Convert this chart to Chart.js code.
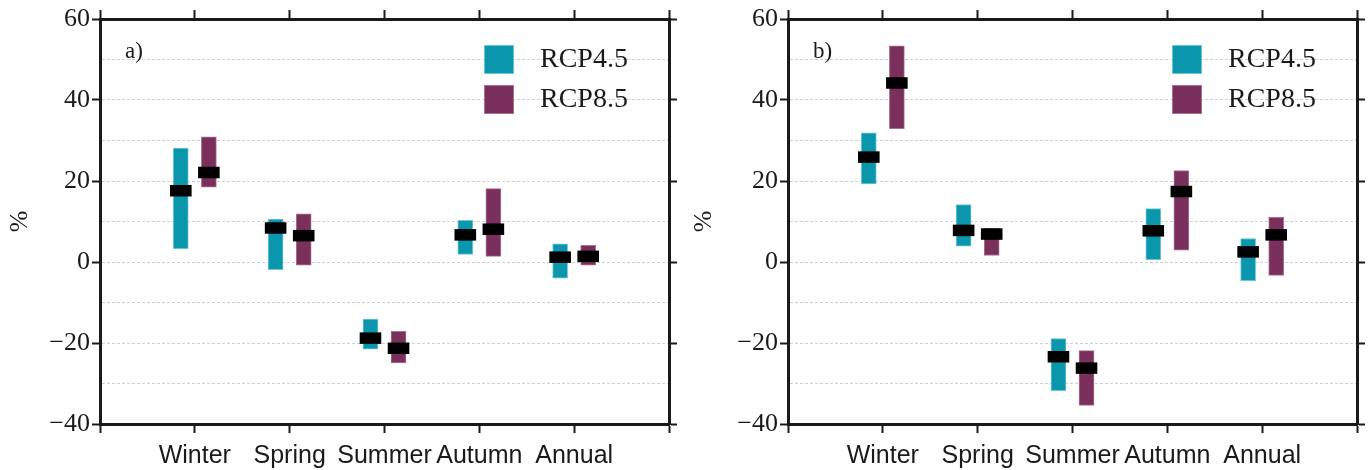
<!DOCTYPE html>
<html>
<head>
<meta charset="utf-8">
<script src="https://cdn.jsdelivr.net/npm/chart.js@4.4.1/dist/chart.umd.min.js"></script>
<style>
  html, body { margin: 0; padding: 0; background: #fff; }
  .row { display: flex; width: 1368px; height: 470px; }
  canvas { display: block; width: 684px; height: 470px; }
</style>
</head>
<body>
<div class="row">
  <canvas id="chart-a" width="684" height="470"></canvas>
  <canvas id="chart-b" width="684" height="470"></canvas>
</div>
<script>
// ── Dati ────────────────────────────────────────────────────────────────────
const SEASONS   = ['Winter', 'Spring', 'Summer', 'Autumn', 'Annual'];
const SCENARIOS = ['RCP4.5', 'RCP8.5'];
const Y_LABELS  = [-40, -20, 0, 20, 40, 60];

// pannello a)
const A_RCP45_LOW  = [3.3, -1.9, -21.5, 1.9, -4.0];
const A_RCP45_HIGH = [28.1, 10.6, -14.1, 10.3, 4.5];
const A_RCP45_MED  = [17.6, 8.4, -18.8, 6.7, 1.2];
const A_RCP85_LOW  = [18.5, -0.8, -24.9, 1.4, -0.8];
const A_RCP85_HIGH = [30.9, 11.9, -17.1, 18.1, 4.1];
const A_RCP85_MED  = [22.1, 6.5, -21.3, 8.1, 1.4];

// pannello b)
const B_RCP45_LOW  = [19.3, 3.9, -31.8, 0.6, -4.6];
const B_RCP45_HIGH = [31.9, 14.2, -18.9, 13.2, 5.8];
const B_RCP45_MED  = [25.9, 7.8, -23.4, 7.7, 2.5];
const B_RCP85_LOW  = [32.9, 1.6, -35.4, 2.9, -3.3];
const B_RCP85_HIGH = [53.4, 8.3, -21.9, 22.6, 11.0];
const B_RCP85_MED  = [44.2, 6.9, -26.2, 17.4, 6.7];

const COLORS  = ['#0a97ad', '#7a2f5d'];
const EDGES   = ['#6cc6d3', '#a7728f'];
const SHIFT   = 0.148;   // scostamento dei due scenari dal centro categoria
const SERIF   = "'Liberation Serif', 'Times New Roman', serif";
const SANS    = "'Liberation Sans', Arial, sans-serif";
const INK     = '#1a1a1a';

// ── Legenda ed etichetta pannello ──────────────────────────────────────────
const boxLegend = {
  id: 'boxLegend',
  afterDraw(chart, args, opts) {
    const { ctx, chartArea } = chart;
    const bars = chart.data.datasets.filter(d => d.type === 'bar');
    ctx.save();
    ctx.font = `28px ${SERIF}`;
    ctx.textBaseline = 'middle';
    bars.forEach((d, i) => {
      const bx = chartArea.right - 185;
      const by = chartArea.top + 26 + i * 40;
      ctx.fillStyle = d.backgroundColor;
      ctx.fillRect(bx, by, 30, 29);
      ctx.strokeStyle = d.borderColor;
      ctx.lineWidth = 1;
      ctx.strokeRect(bx + 0.5, by + 0.5, 29, 28);
      ctx.fillStyle = INK;
      ctx.fillText(d.label, bx + 56, by + 15);
    });
    ctx.font = `23px ${SERIF}`;
    ctx.textBaseline = 'alphabetic';
    ctx.fillStyle = INK;
    ctx.fillText(opts.tag, chartArea.left + 25, chartArea.top + 39);
    ctx.restore();
  },
};

function fmtTick(v) {
  if (!Y_LABELS.includes(v)) return '';
  return v < 0 ? '\u2212' + Math.abs(v) : String(v);
}

function makePanel(canvasId, tag, lows, highs, meds, leftW, rightW) {
  const ctx = document.getElementById(canvasId).getContext('2d');

  const barSets = SCENARIOS.map((name, s) => ({
    type: 'bar',
    label: name,
    data: SEASONS.map((_, i) => ({ x: i + 1 + (s === 0 ? -SHIFT : SHIFT), y: [lows[s][i], highs[s][i]] })),
    backgroundColor: COLORS[s],
    borderColor: EDGES[s],
    borderWidth: 1,
    borderSkipped: false,
    barThickness: 15,
    grouped: false,
    order: 1,
  }));

  const medSets = SCENARIOS.map((name, s) => ({
    type: 'scatter',
    label: name + ' median',
    data: SEASONS.map((_, i) => ({ x: i + 1 + (s === 0 ? -SHIFT : SHIFT), y: meds[s][i] })),
    pointStyle: 'line',
    pointRadius: 10.8,
    pointBorderWidth: 11.5,
    pointBorderColor: '#000',
    pointBackgroundColor: '#000',
    order: 0,
  }));

  const yTickColor = c => (Y_LABELS.includes(c.tick?.value) ? INK : 'rgba(0,0,0,0)');

  return new Chart(ctx, {
    type: 'bar',
    data: { datasets: [...barSets, ...medSets] },
    options: {
      responsive: false,
      animation: false,
      events: [],
      devicePixelRatio: 1,
      layout: { padding: 0, autoPadding: false },
      plugins: {
        legend: { display: false },
        tooltip: { enabled: false },
        boxLegend: { tag },
      },
      scales: {
        x: {
          type: 'linear', position: 'bottom', min: 0, max: 6, offset: false,
          afterFit: s => { s.height = 46; },
          grid: { offset: false, drawOnChartArea: false, tickLength: 9, tickWidth: 2, tickColor: INK },
          border: { width: 3, color: INK },
          ticks: {
            stepSize: 1, autoSkip: false, maxRotation: 0, padding: 8,
            color: INK, font: { family: SANS, size: 25 },
            callback: v => SEASONS[v - 1] ?? '',
          },
        },
        x2: {
          type: 'linear', position: 'top', min: 0, max: 6, offset: false,
          afterFit: s => { s.height = 19; },
          grid: { offset: false, drawOnChartArea: false, tickLength: 9, tickWidth: 2, tickColor: INK },
          border: { width: 3, color: INK },
          ticks: { stepSize: 1, display: false },
        },
        y: {
          type: 'linear', position: 'left', min: -40, max: 60, stacked: false,
          afterFit: s => { s.width = leftW; },
          grid: { color: '#cfcfcf', lineWidth: 1, tickLength: 8, tickWidth: 2, tickColor: yTickColor },
          border: { width: 3, color: INK, dash: [3, 2] },
          ticks: {
            stepSize: 10, autoSkip: false, padding: 2,
            color: INK, font: { family: SERIF, size: 26 },
            callback: fmtTick,
          },
          title: {
            display: true, text: '%', color: INK,
            font: { family: SERIF, size: 26 },
            padding: { top: 5, bottom: 0 },
          },
        },
        y2: {
          type: 'linear', position: 'right', min: -40, max: 60,
          afterFit: s => { s.width = rightW; },
          grid: { drawOnChartArea: false, tickLength: 8, tickWidth: 2, tickColor: yTickColor },
          border: { width: 3, color: INK },
          ticks: { stepSize: 10, display: false },
        },
      },
    },
    plugins: [boxLegend],
  });
}

makePanel('chart-a', 'a)',
  [A_RCP45_LOW, A_RCP85_LOW], [A_RCP45_HIGH, A_RCP85_HIGH], [A_RCP45_MED, A_RCP85_MED], 100, 15);
makePanel('chart-b', 'b)',
  [B_RCP45_LOW, B_RCP85_LOW], [B_RCP45_HIGH, B_RCP85_HIGH], [B_RCP45_MED, B_RCP85_MED], 104, 11);
</script>
</body>
</html>
